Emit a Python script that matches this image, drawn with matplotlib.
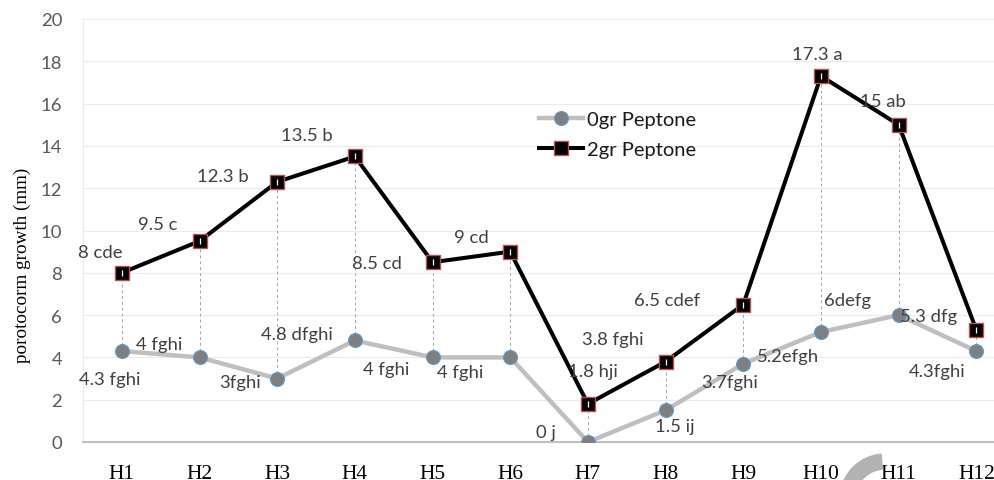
import matplotlib
matplotlib.use("Agg")
import matplotlib.pyplot as plt
from matplotlib.patches import Wedge
from matplotlib.transforms import IdentityTransform

# data
categories = ["H1", "H2", "H3", "H4", "H5", "H6", "H7", "H8", "H9", "H10", "H11", "H12"]
peptone0 = [4.3, 4, 3, 4.8, 4, 4, 0, 1.5, 3.7, 5.2, 6, 4.3]
peptone2 = [8, 9.5, 12.3, 13.5, 8.5, 9, 1.8, 3.8, 6.5, 17.3, 15, 5.3]
labels0 = ["4.3 fghi", "4 fghi", "3fghi", "4.8 dfghi", "4 fghi", "4 fghi",
           "0 j", "1.5 ij", "3.7fghi", "5.2efgh", "6defg", "4.3fghi"]
labels2 = ["8 cde", "9.5 c", "12.3 b", "13.5 b", "8.5 cd", "9 cd",
           "1.8 hji", "3.8 fghi", "6.5 cdef", "17.3 a", "15 ab", "5.3 dfg"]
yticks = [0, 2, 4, 6, 8, 10, 12, 14, 16, 18, 20]

# label offsets in pixels (right, down) from their point
off0 = [(-12, 28), (-40, -13), (-37, 3), (-58, -6), (-46, 12), (-50, 15),
        (-42, -10), (9, 16), (-14, 18), (-33, 24), (-51, -15), (-39, 20)]
off2 = [(-22, -21), (-42, -17), (-54, -6), (-48, -21), (-56, 1), (-39, -15),
        (5, -33), (-53, -23), (-76, -5), (-4, -22), (-16, -24), (-48, -14)]

sans = ["Lato", "DejaVu Sans"]
serif = ["Liberation Serif", "DejaVu Serif"]

fig = plt.figure(figsize=(9.95, 4.81), dpi=100)
ax = fig.add_axes([83 / 995, 38 / 481, 912 / 995, 423 / 481])

x = list(range(len(categories)))

# high-low lines between the two series
ax.vlines(x, peptone0, peptone2, colors="#a6a6a6", linewidth=0.7,
          linestyles=(0, (3, 3)), zorder=1)

ax.plot(x, peptone0, color="#bfbfbf", linewidth=3.2, marker="o", markersize=10,
        markerfacecolor="#7f7f7f", markeredgecolor="#5b9bd5", markeredgewidth=0.8,
        label="0gr Peptone", zorder=3)
ax.plot(x, peptone2, color="black", linewidth=2.9, marker="s", markersize=10.5,
        markerfacecolor="black", markeredgecolor="#c0504d", markeredgewidth=1.0,
        label="2gr Peptone", zorder=4)
ax.plot(x, peptone2, linestyle="none", marker="|", markersize=4,
        markeredgecolor="white", markeredgewidth=0.9, zorder=5)

for i in x:
    ax.annotate(labels0[i], xy=(i, peptone0[i]), xytext=(off0[i][0], -off0[i][1]),
                textcoords="offset pixels", ha="center", va="center",
                fontsize=13.3, family=sans, color="#404040", zorder=6)
    ax.annotate(labels2[i], xy=(i, peptone2[i]), xytext=(off2[i][0], -off2[i][1]),
                textcoords="offset pixels", ha="center", va="center",
                fontsize=13.3, family=sans, color="#404040", zorder=6)

ax.set_xlim(-0.5, 11.24)
ax.set_ylim(0, 20)
ax.set_yticks(yticks)
ax.set_xticks(x)
ax.set_xticklabels(categories, family=serif, fontsize=15.5, color="black")
ax.set_yticklabels([str(v) for v in yticks], family=sans, fontsize=13.3, color="#595959")
ax.tick_params(axis="x", length=0, pad=16)
ax.tick_params(axis="y", length=0, pad=15)
ax.grid(axis="y", color="#ebebeb", linewidth=0.8)
ax.set_axisbelow(True)

for side in ["top", "right"]:
    ax.spines[side].set_visible(False)
ax.spines["left"].set_color("#ebebeb")
ax.spines["left"].set_linewidth(0.8)
ax.spines["bottom"].set_color("#bfbfbf")
ax.spines["bottom"].set_linewidth(1.5)

ax.legend(loc="upper left", bbox_to_anchor=(0.5, 0.7825), frameon=False,
          prop={"family": sans, "size": 14.5}, labelcolor="#1a1a1a",
          handlelength=2.2, handletextpad=0.2, labelspacing=0.65,
          borderpad=0, borderaxespad=0)

fig.text(22 / 995, 1 - 265 / 481, "porotocorm growth (mm)", rotation=90,
         ha="center", va="center", family=serif, fontsize=13.8, color="black")

# grey watermark fragment at the bottom edge
fig.patches.append(Wedge((885, -19), 45, 95, 175, width=15, color="#b3b3b3",
                         transform=IdentityTransform(), figure=fig, zorder=0))

fig.savefig("out.png", dpi=100)
